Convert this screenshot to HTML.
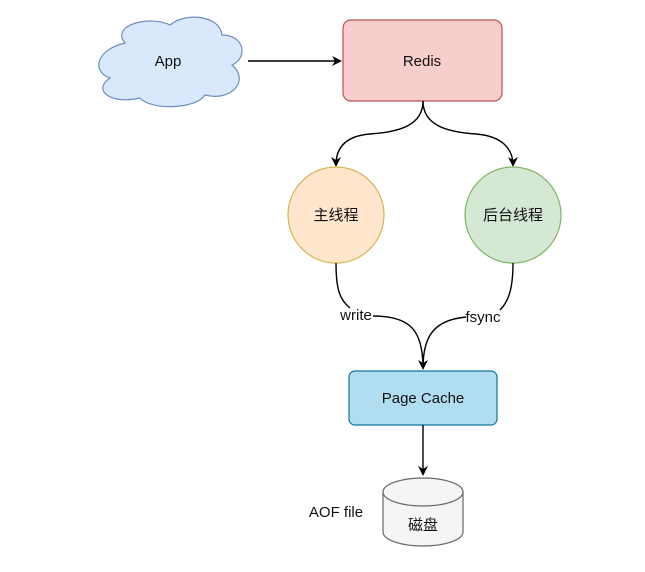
<!DOCTYPE html>
<html><head><meta charset="utf-8"><style>
body{margin:0;background:#fff}
text{font-family:"Liberation Sans","Noto Sans CJK SC",sans-serif;font-size:15px;fill:#111}
</style></head><body>
<svg width="645" height="567" viewBox="0 0 645 567" xmlns="http://www.w3.org/2000/svg">
<defs><marker id="a" markerWidth="10" markerHeight="10" refX="8" refY="5" orient="auto" markerUnits="userSpaceOnUse"><path d="M0,0 L10,5 L0,10 L3,5 Z" fill="#000"/></marker></defs>
<path d="M125,43 C110,25 150,15 170,25 C185,12 220,15 222,35 C245,35 248,58 232,65 C250,80 232,102 205,95 C195,110 150,110 140,98 C110,105 92,90 110,78 C92,72 95,50 125,43 Z" fill="#dae8fc" stroke="#6c8ebf" stroke-width="1.2"/>
<text x="168" y="66" text-anchor="middle">App</text>
<line x1="248" y1="61" x2="340" y2="61" stroke="#000" stroke-width="1.4" marker-end="url(#a)"/>
<rect x="343" y="20" width="159" height="81" rx="8" fill="#f8cecc" stroke="#b85450" stroke-width="1.2"/>
<text x="422" y="66" text-anchor="middle">Redis</text>
<path d="M423,101 C423,125 400,132 370,134 C345,136 336,148 336,165" fill="none" stroke="#000" stroke-width="1.4" marker-end="url(#a)"/>
<path d="M423,101 C423,125 446,132 476,134 C501,136 513,148 513,165" fill="none" stroke="#000" stroke-width="1.4" marker-end="url(#a)"/>
<circle cx="336" cy="215" r="48" fill="#ffe6cc" stroke="#d6b656" stroke-width="1.2"/>
<text x="336" y="220" text-anchor="middle">主线程</text>
<circle cx="513" cy="215" r="48" fill="#d5e8d4" stroke="#82b366" stroke-width="1.2"/>
<text x="513" y="220" text-anchor="middle">后台线程</text>
<path d="M336,263 C336,290 340,300 350,308 M373,316 C410,316 423,330 423,368" fill="none" stroke="#000" stroke-width="1.4" marker-end="url(#a)"/>
<path d="M513,263 C513,290 508,302 500,310 M466,317 C435,320 423,335 423,368" fill="none" stroke="#000" stroke-width="1.4"/>
<text x="356" y="320" text-anchor="middle" font-size="13">write</text>
<text x="483" y="322" text-anchor="middle" font-size="13">fsync</text>
<rect x="349" y="371" width="148" height="54" rx="6" fill="#b1ddf0" stroke="#10739e" stroke-width="1.2"/>
<text x="423" y="403" text-anchor="middle">Page Cache</text>
<line x1="423" y1="425" x2="423" y2="474" stroke="#000" stroke-width="1.4" marker-end="url(#a)"/>
<path d="M383,492 A40,14 0 0 1 463,492 L463,532 A40,14 0 0 1 383,532 Z" fill="#f5f5f5" stroke="#666" stroke-width="1.2"/>
<path d="M383,492 A40,14 0 0 0 463,492" fill="none" stroke="#666" stroke-width="1.2"/>
<text x="423" y="530" text-anchor="middle" fill="#333">磁盘</text>
<text x="336" y="517" text-anchor="middle">AOF file</text>
</svg>
</body></html>
